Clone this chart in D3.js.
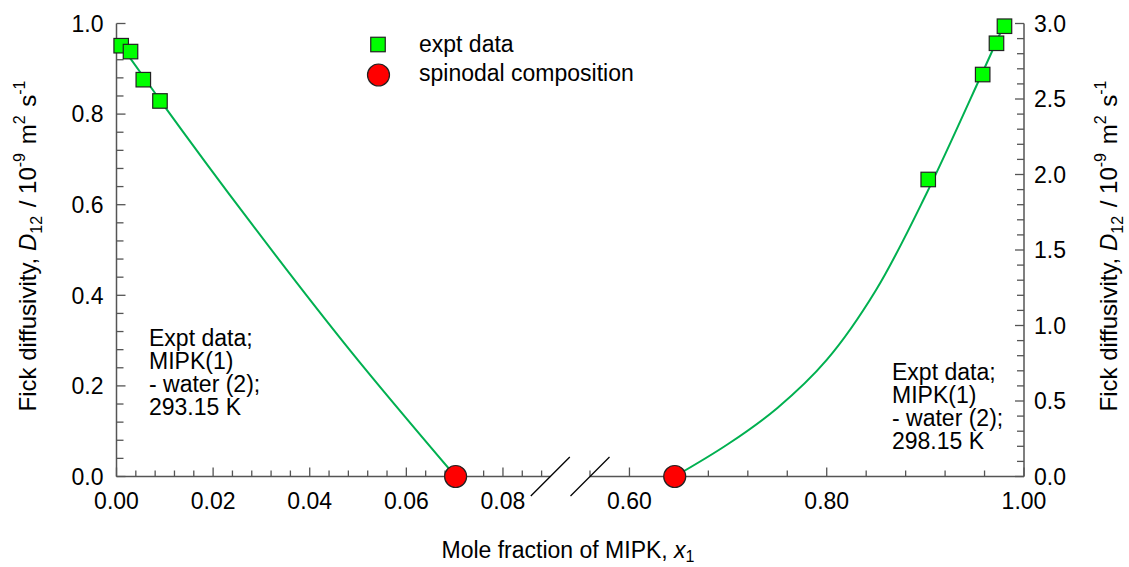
<!DOCTYPE html>
<html>
<head>
<meta charset="utf-8">
<script src="https://cdn.jsdelivr.net/npm/d3@7"></script>
<style>
  html, body { margin: 0; padding: 0; background: #fff; }
  svg { display: block; font-family: "Liberation Sans", Arial, sans-serif; }
</style>
</head>
<body>
<svg id="chart" width="1129" height="567"></svg>
<script>
// ---- data ----
const exptLeftX = [0.00097, 0.0029, 0.00555, 0.0090];
const exptLeftD = [0.951, 0.938, 0.876, 0.829];
const exptRightX = [0.9029, 0.9581, 0.9721, 0.9802];
const exptRightD = [1.967, 2.662, 2.869, 2.982];
const spinodalX = [0.0702, 0.6459];
const spinodalD = [0, 0];
const curveLeftX = [0.0002, 0.00555, 0.0090, 0.0276, 0.0483, 0.0702];
const curveLeftD = [0.962, 0.883, 0.831, 0.563, 0.279, 0.0];
const curveRightX = [0.6459, 0.7000, 0.7500, 0.8000, 0.8500, 0.9013, 0.9571, 0.9802];
const curveRightD = [0.0, 0.215, 0.454, 0.772, 1.235, 1.876, 2.664, 2.997];
const xTicksLeft = [0.00, 0.02, 0.04, 0.06, 0.08];
const xTicksRight = [0.60, 0.80, 1.00];
const yTicksLeft = [0.0, 0.2, 0.4, 0.6, 0.8, 1.0];
const yTicksRight = [0.0, 0.5, 1.0, 1.5, 2.0, 2.5, 3.0];
const noteLeft = ["Expt data;", "MIPK(1)", "- water (2);", "293.15 K"];
const noteRight = ["Expt data;", "MIPK(1)", "- water (2);", "298.15 K"];
const legendLabels = ["expt data", "spinodal composition"];

// ---- layout ----
const svg = d3.select("#chart");
const FS = 23;
const SUB = 16;
const axisColor = "#555";
const lineColor = "#00b050";
const plotTop = 23.5, plotBot = 476.5;
const xL = d3.scaleLinear().domain([0, 0.0898]).range([116.5, 550.3]);
const xR = d3.scaleLinear().domain([0.56, 1.00]).range([590, 1024]);
const yL = d3.scaleLinear().domain([0, 1]).range([plotBot, plotTop]);
const yR = d3.scaleLinear().domain([0, 3]).range([plotBot, plotTop]);

const g = svg.append("g");

// bottom axis segments
function hAxis(scale, minorStep, majors, fmt) {
  const [d0, d1] = scale.domain();
  g.append("line").attr("x1", scale.range()[0]).attr("x2", scale.range()[1])
    .attr("y1", plotBot).attr("y2", plotBot)
    .attr("stroke", axisColor).attr("stroke-width", 1.5);
  const start = Math.ceil(d0 / minorStep - 1e-6);
  for (let i = start; i * minorStep <= d1 + 1e-9; i++) {
    const v = i * minorStep;
    const isMajor = majors.some(m => Math.abs(m - v) < 1e-9);
    g.append("line").attr("x1", scale(v)).attr("x2", scale(v))
      .attr("y1", plotBot).attr("y2", plotBot - (isMajor ? 9 : 6))
      .attr("stroke", axisColor).attr("stroke-width", 1.3);
  }
  majors.forEach(m => {
    g.append("text").attr("x", scale(m)).attr("y", plotBot + 32)
      .attr("text-anchor", "middle").attr("font-size", FS).attr("fill", "#000")
      .text(fmt(m));
  });
}
hAxis(xL, 0.004, xTicksLeft, d3.format(".2f"));
hAxis(xR, 0.04, xTicksRight, d3.format(".2f"));

// break marks
[xL.range()[1], xR.range()[0]].forEach(px => {
  g.append("line").attr("x1", px - 19.5).attr("y1", plotBot + 19.5)
    .attr("x2", px + 19.5).attr("y2", plotBot - 19.5)
    .attr("stroke", "#000").attr("stroke-width", 1.3);
});

// vertical axes
function vAxis(scale, x, dir, minorStep, majors, fmt, labelSide) {
  g.append("line").attr("x1", x).attr("x2", x).attr("y1", plotTop).attr("y2", plotBot)
    .attr("stroke", axisColor).attr("stroke-width", 1.5);
  const d1 = scale.domain()[1];
  for (let i = 0; i * minorStep <= d1 + 1e-9; i++) {
    const v = i * minorStep;
    const isMajor = majors.some(m => Math.abs(m - v) < 1e-9);
    g.append("line").attr("x1", x).attr("x2", x + dir * (isMajor ? 9 : 7))
      .attr("y1", scale(v)).attr("y2", scale(v))
      .attr("stroke", axisColor).attr("stroke-width", 1.3);
  }
  majors.forEach(m => {
    g.append("text")
      .attr("x", labelSide < 0 ? x - 13 : x + 10)
      .attr("y", scale(m)).attr("dy", "0.36em")
      .attr("text-anchor", labelSide < 0 ? "end" : "start")
      .attr("font-size", FS).attr("fill", "#000").text(fmt(m));
  });
}
vAxis(yL, 116.5, 1, 0.04, yTicksLeft, d3.format(".1f"), -1);
vAxis(yR, 1024, -1, 0.1, yTicksRight, d3.format(".1f"), 1);

// axis titles
function yTitle(x, y) {
  const t = g.append("text").attr("transform", `translate(${x},${y}) rotate(-90)`)
    .attr("text-anchor", "middle").attr("font-size", 24).attr("fill", "#000");
  t.append("tspan").text("Fick diffusivity, ");
  t.append("tspan").attr("font-style", "italic").text("D");
  t.append("tspan").attr("font-size", SUB).attr("dy", 6).text("12");
  t.append("tspan").attr("dy", -6).attr("dx", 2).text(" / 10");
  t.append("tspan").attr("font-size", SUB).attr("dy", -11).text("-9");
  t.append("tspan").attr("dy", 11).attr("dx", 2).text(" m");
  t.append("tspan").attr("font-size", SUB).attr("dy", -11).text("2");
  t.append("tspan").attr("dy", 11).attr("dx", 2).text(" s");
  t.append("tspan").attr("font-size", SUB).attr("dy", -11).text("-1");
}
yTitle(36, 246);
yTitle(1117, 246);

const xt = g.append("text").attr("x", 568).attr("y", 558).attr("text-anchor", "middle")
  .attr("font-size", FS).attr("fill", "#000");
xt.append("tspan").text("Mole fraction of MIPK, ");
xt.append("tspan").attr("font-style", "italic").text("x");
xt.append("tspan").attr("font-size", SUB).attr("dy", 4).text("1");

// curves
const lineL = d3.line().x(d => xL(d[0])).y(d => yL(d[1])).curve(d3.curveCatmullRom.alpha(0.5));
const lineR = d3.line().x(d => xR(d[0])).y(d => yR(d[1])).curve(d3.curveCatmullRom.alpha(0.5));
g.append("path").attr("d", lineL(d3.zip(curveLeftX, curveLeftD)))
  .attr("fill", "none").attr("stroke", lineColor).attr("stroke-width", 2);
g.append("path").attr("d", lineR(d3.zip(curveRightX, curveRightD)))
  .attr("fill", "none").attr("stroke", lineColor).attr("stroke-width", 2);

// squares
const S = 14.5;
function squares(xs, ys, xs_, ys_) {
  d3.zip(xs, ys).forEach(([a, b]) => {
    g.append("rect").attr("x", xs_(a) - S / 2).attr("y", ys_(b) - S / 2)
      .attr("width", S).attr("height", S)
      .attr("fill", "#00ff00").attr("stroke", "#222").attr("stroke-width", 1.2);
  });
}
squares(exptLeftX, exptLeftD, xL, yL);
squares(exptRightX, exptRightD, xR, yR);

// spinodal circles
g.append("circle").attr("cx", xL(spinodalX[0])).attr("cy", yL(spinodalD[0])).attr("r", 11)
  .attr("fill", "#ff0000").attr("stroke", "#222").attr("stroke-width", 1.2);
g.append("circle").attr("cx", xR(spinodalX[1])).attr("cy", yR(spinodalD[1])).attr("r", 11)
  .attr("fill", "#ff0000").attr("stroke", "#222").attr("stroke-width", 1.2);

// legend
g.append("rect").attr("x", 378 - S / 2).attr("y", 44.5 - S / 2).attr("width", S).attr("height", S)
  .attr("fill", "#00ff00").attr("stroke", "#222").attr("stroke-width", 1.2);
g.append("circle").attr("cx", 378.5).attr("cy", 75).attr("r", 11)
  .attr("fill", "#ff0000").attr("stroke", "#222").attr("stroke-width", 1.2);
legendLabels.forEach((t, i) => {
  g.append("text").attr("x", 419).attr("y", 52 + i * 29).attr("font-size", FS)
    .attr("fill", "#000").text(t);
});

// notes
noteLeft.forEach((t, i) => {
  g.append("text").attr("x", 149).attr("y", 346 + i * 23).attr("font-size", FS)
    .attr("fill", "#000").text(t);
});
noteRight.forEach((t, i) => {
  g.append("text").attr("x", 892).attr("y", 380 + i * 23).attr("font-size", FS)
    .attr("fill", "#000").text(t);
});
</script>
</body>
</html>
